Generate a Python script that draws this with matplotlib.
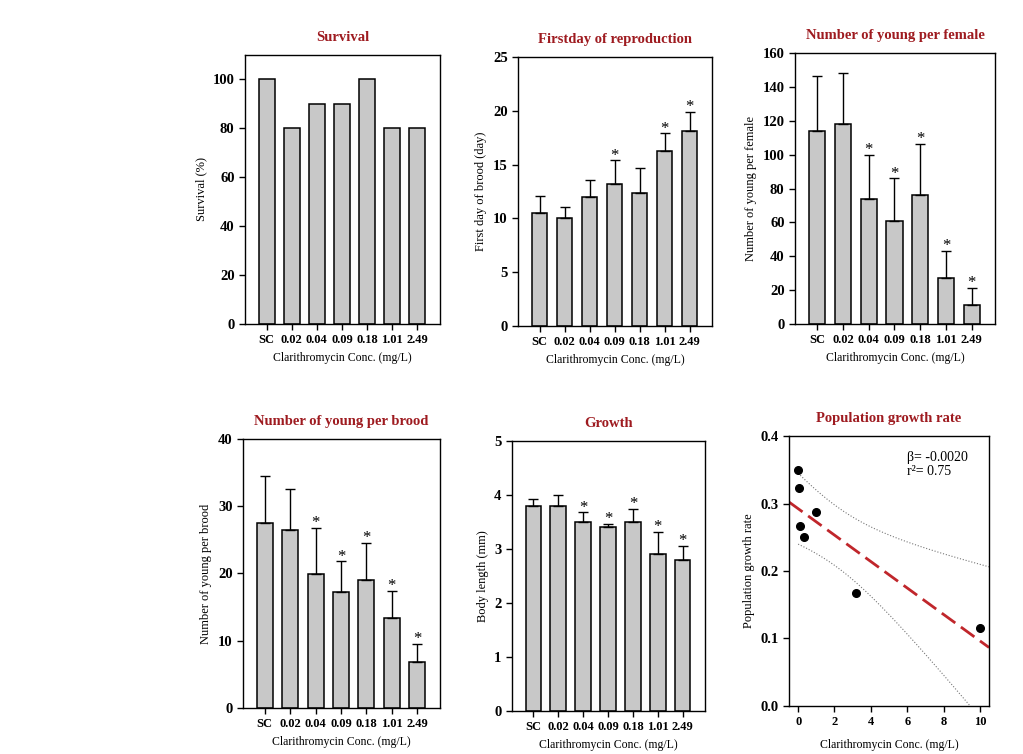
import numpy as np
import matplotlib.pyplot as plt

plt.rcParams['font.family'] = ['Liberation Serif', 'DejaVu Serif']

conc = ['SC', '0.02', '0.04', '0.09', '0.18', '1.01', '2.49']

survival = [100, 80, 90, 90, 100, 80, 80]

first_day = [10.5, 10.0, 12.0, 13.2, 12.4, 16.3, 18.1]
first_day_sd = [1.6, 1.1, 1.6, 2.2, 2.3, 1.6, 1.8]
first_day_sig = [0, 0, 0, 1, 0, 1, 1]

young_female = [114, 118, 74, 61, 76, 27, 11]
young_female_sd = [32.5, 30, 26, 25, 30.5, 16, 10.5]
young_female_sig = [0, 0, 1, 1, 1, 1, 1]

young_brood = [27.5, 26.5, 19.9, 17.2, 19.0, 13.4, 6.9]
young_brood_sd = [7.0, 6.1, 6.9, 4.6, 5.6, 4.0, 2.6]
young_brood_sig = [0, 0, 1, 1, 1, 1, 1]

body_len = [3.8, 3.8, 3.5, 3.4, 3.5, 2.9, 2.8]
body_len_sd = [0.13, 0.21, 0.18, 0.07, 0.24, 0.42, 0.26]
body_len_sig = [0, 0, 1, 1, 1, 1, 1]

pgr_conc = [0, 0.03, 0.1, 0.3, 1.0, 3.2, 10]
pgr = [0.35, 0.323, 0.266, 0.25, 0.287, 0.168, 0.116]

TITLE_RED = '#9e1b20'
XLAB = 'Clarithromycin Conc. (mg/L)'


def style(ax, title, ylabel):
    ax.set_title(title, color=TITLE_RED, fontweight='bold', fontsize=10.5, pad=10)
    ax.set_ylabel(ylabel, fontsize=9)
    ax.set_xlabel(XLAB, fontsize=8.5)
    ax.tick_params(direction='out', length=4, width=1, top=False, right=False)
    ax.tick_params(axis='y', labelsize=10.5)
    for s in ax.spines.values():
        s.set_linewidth(1)
    for lab in ax.get_xticklabels() + ax.get_yticklabels():
        lab.set_fontweight('bold')


def bar_panel(ax, vals, title, ylabel, ylim, yticks, sd=None, sig=None):
    x = np.arange(len(conc))
    ax.bar(x, vals, width=0.63, color='#c8c8c8', edgecolor='black', linewidth=1.1, zorder=2)
    if sd is not None:
        ax.errorbar(x, vals, yerr=[np.zeros(len(x)), sd], fmt='none', ecolor='black',
                    elinewidth=1, capsize=3.5, capthick=1, zorder=3)
        for i in range(len(x)):
            if sig[i]:
                ax.annotate('*', (i, vals[i] + sd[i]), xytext=(0, 0.5), textcoords='offset points',
                            ha='center', va='baseline', fontsize=12)
    ax.set_xlim(-0.86, 6.9)
    ax.set_ylim(*ylim)
    ax.set_yticks(yticks)
    ax.set_xticks(x)
    ax.set_xticklabels(conc, fontsize=9)
    style(ax, title, ylabel)


fig = plt.figure(figsize=(10.23, 7.54), dpi=100)

ax1 = fig.add_axes([0.2395, 0.5703, 0.1906, 0.3568])
bar_panel(ax1, survival, 'Survival', 'Survival (%)', (0, 110), range(0, 101, 20))

ax2 = fig.add_axes([0.5064, 0.5676, 0.1896, 0.3568])
bar_panel(ax2, first_day, 'Firstday of reproduction', 'First day of brood (day)', (0, 25),
          range(0, 26, 5), first_day_sd, first_day_sig)

ax3 = fig.add_axes([0.7771, 0.5703, 0.1955, 0.3594])
bar_panel(ax3, young_female, 'Number of young per female', 'Number of young per female', (0, 160),
          range(0, 161, 20), young_female_sd, young_female_sig)

ax4 = fig.add_axes([0.2375, 0.0610, 0.1926, 0.3568])
bar_panel(ax4, young_brood, 'Number of young per brood', 'Number of young per brood', (0, 40),
          range(0, 41, 10), young_brood_sd, young_brood_sig)

ax5 = fig.add_axes([0.5005, 0.0570, 0.1887, 0.3580])
bar_panel(ax5, body_len, 'Growth', 'Body length (mm)', (0, 5),
          range(0, 6), body_len_sd, body_len_sig)

# population growth rate: regression with 95% confidence band
ax6 = fig.add_axes([0.7713, 0.0637, 0.1955, 0.3580])
xp = np.array(pgr_conc, dtype=float)
yp = np.array(pgr)
n = len(xp)
slope, icpt = np.polyfit(xp, yp, 1)
resid = yp - (slope * xp + icpt)
s = np.sqrt(np.sum(resid ** 2) / (n - 2))
sxx = np.sum((xp - xp.mean()) ** 2)
t975 = 2.571
xx = np.linspace(-0.5, 10.5, 200)
fit = slope * xx + icpt
xb = np.linspace(0, 10.5, 200)
half = t975 * s * np.sqrt(1 / n + (xb - xp.mean()) ** 2 / sxx)
ax6.plot(xb, slope * xb + icpt + half, color='#777777', ls=':', lw=0.8)
ax6.plot(xb, slope * xb + icpt - half, color='#777777', ls=':', lw=0.8)
ax6.plot(xx, fit, color='#c0262b', lw=2, dashes=(6, 2.5))
ax6.plot(xp, yp, 'o', color='black', ms=5.5, zorder=4)
ax6.set_xlim(-0.5, 10.5)
ax6.set_ylim(0, 0.4)
ax6.set_xticks(range(0, 11, 2))
ax6.set_yticks(np.arange(0, 0.41, 0.1))
ax6.set_yticklabels(['%.1f' % v for v in np.arange(0, 0.41, 0.1)])
ax6.tick_params(axis='x', labelsize=9)
ax6.text(0.59, 0.945, 'β= -0.0020\nr²= 0.75', transform=ax6.transAxes, fontsize=10,
         va='top', ha='left', linespacing=1.1)
style(ax6, 'Population growth rate', 'Population growth rate')
ax6.xaxis.labelpad = 8

fig.savefig('out.png', dpi=100)
